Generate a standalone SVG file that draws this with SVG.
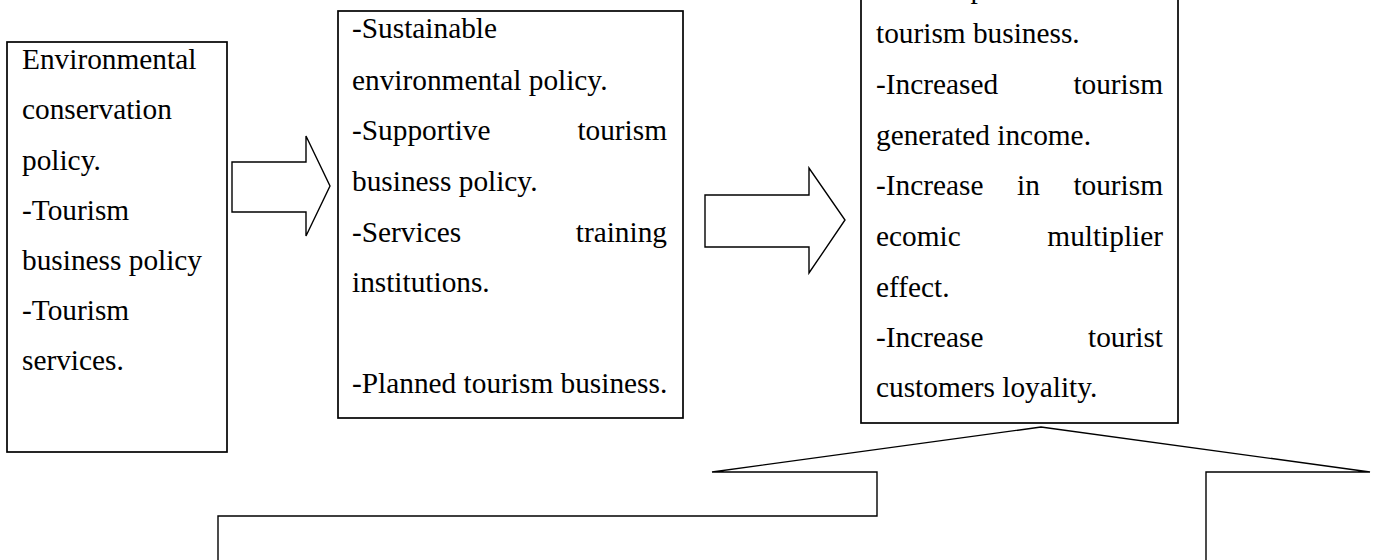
<svg xmlns="http://www.w3.org/2000/svg" width="1377" height="560" viewBox="0 0 1377 560">
  <style>
    .box { fill: #fff; stroke: #000; stroke-width: 1.7; }
    .flow { fill: #fff; stroke: #000; stroke-width: 1.4; stroke-linejoin: miter; }
    text { font-family: "Liberation Serif", "Times New Roman", serif; font-size: 29.33px; fill: #000; }
    .end { text-anchor: end; }
  </style>
  <rect width="1377" height="560" fill="#fff"/>

  <!-- block arrows between the three stages -->
  <g id="connectors">
    <polygon class="flow" points="232,162 306,162 306,136 330,186 306,236 306,212 232,212"/>
    <polygon class="flow" points="705,195 809,195 809,168 845,220 809,273 809,247 705,247"/>
  </g>

  <!-- stage 1: policy inputs -->
  <g id="node-policy">
    <rect class="box" x="7" y="42" width="220" height="410"/>
    <text x="22" y="68.5">Environmental</text>
    <text x="22" y="119">conservation</text>
    <text x="22" y="169.5">policy.</text>
    <text x="22" y="220">-Tourism</text>
    <text x="22" y="270">business policy</text>
    <text x="22" y="320">-Tourism</text>
    <text x="22" y="370">services.</text>
  </g>

  <!-- stage 2: supporting measures -->
  <g id="node-measures">
    <rect class="box" x="338" y="11" width="345" height="407"/>
    <text x="352" y="38">-Sustainable</text>
    <text x="352" y="89.5">environmental policy.</text>
    <text x="352" y="140">-Supportive</text>
    <text class="end" x="667" y="140">tourism</text>
    <text x="352" y="191">business policy.</text>
    <text x="352" y="241.5">-Services</text>
    <text class="end" x="667" y="241.5">training</text>
    <text x="352" y="292">institutions.</text>
    <text x="352" y="393">-Planned tourism business.</text>
  </g>

  <!-- stage 3: outcomes (first line runs past the top edge) -->
  <g id="node-outcomes">
    <rect class="box" x="861" y="-20" width="317" height="443"/>
    <text x="876" y="-2">-Development of</text>
    <text x="876" y="43">tourism business.</text>
    <text x="876" y="93.5">-Increased</text>
    <text class="end" x="1163" y="93.5">tourism</text>
    <text x="876" y="144.5">generated income.</text>
    <text x="876" y="195">-Increase</text>
    <text x="1017" y="195">in</text>
    <text class="end" x="1163" y="195">tourism</text>
    <text x="876" y="245.5">ecomic</text>
    <text class="end" x="1163" y="245.5">multiplier</text>
    <text x="876" y="296.5">effect.</text>
    <text x="876" y="347">-Increase</text>
    <text class="end" x="1163" y="347">tourist</text>
    <text x="876" y="397">customers loyality.</text>
  </g>

  <!-- callout box with upward arrow towards the outcomes -->
  <g id="node-callout">
    <path class="flow" d="M218,575 V516 H877 V472 H712 L1041,427 L1370,472 H1206 V575"/>
  </g>
</svg>
